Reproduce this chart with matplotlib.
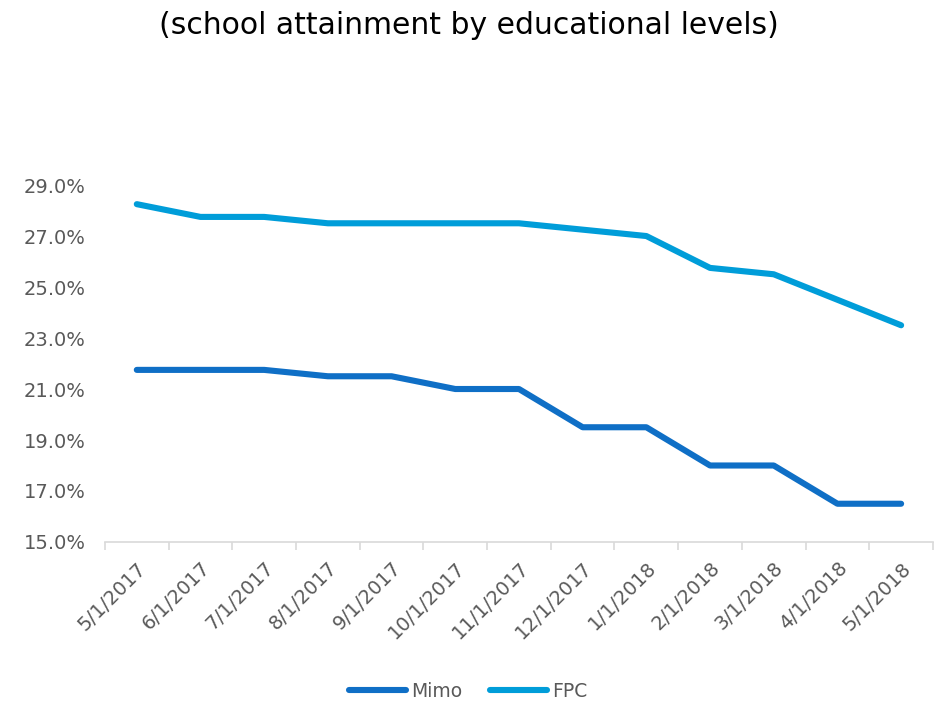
import matplotlib
matplotlib.use('Agg')
import matplotlib.pyplot as plt
from matplotlib.ticker import PercentFormatter, FixedLocator
import numpy as np

# monthly attainment share, two programmes
months = ['5/1/2017', '6/1/2017', '7/1/2017', '8/1/2017', '9/1/2017', '10/1/2017',
          '11/1/2017', '12/1/2017', '1/1/2018', '2/1/2018', '3/1/2018', '4/1/2018', '5/1/2018']
mimo = [21.75, 21.75, 21.75, 21.5, 21.5, 21.0, 21.0, 19.5, 19.5, 18.0, 18.0, 16.5, 16.5]
fpc = [28.25, 27.75, 27.75, 27.5, 27.5, 27.5, 27.5, 27.25, 27.0, 25.75, 25.5, 24.5, 23.5]
y_ticks = [15, 17, 19, 21, 23, 25, 27, 29]

plt.rcParams['font.family'] = ['DejaVu Sans']
label_color = '#595959'

fig = plt.figure(figsize=(9.37, 7.07), dpi=100)
ax = fig.add_axes([0.112, 0.2334, 0.8837, 0.577])

x = np.arange(len(months))
ax.plot(x, mimo, color='#0F6FC6', linewidth=4.4, solid_capstyle='round',
        solid_joinstyle='round', label='Mimo')
ax.plot(x, fpc, color='#009DD9', linewidth=4.4, solid_capstyle='round',
        solid_joinstyle='round', label='FPC')

ax.set_xlim(-0.5, len(months) - 0.5)
ax.set_ylim(15, 31)
ax.set_yticks(y_ticks)
ax.yaxis.set_major_formatter(PercentFormatter(decimals=1))

ax.set_xticks(x)
ax.set_xticklabels(months, rotation=45, ha='right', rotation_mode='anchor')
ax.xaxis.set_minor_locator(FixedLocator(np.arange(-0.5, len(months), 1.0)))
ax.tick_params(axis='x', which='major', length=0, pad=12, labelsize=14, labelcolor=label_color)
ax.tick_params(axis='x', which='minor', length=6, width=1.2, color='#D9D9D9')
ax.tick_params(axis='y', length=0, pad=14, labelsize=14, labelcolor=label_color)

for side in ['top', 'right', 'left']:
    ax.spines[side].set_visible(False)
ax.spines['bottom'].set_color('#D9D9D9')
ax.spines['bottom'].set_linewidth(1.2)

fig.text(0.5, 0.964, '(school attainment by educational levels)', ha='center', va='center',
         fontsize=21.5, color='black')

fig.legend(loc='center', bbox_to_anchor=(0.5, 0.022), ncol=2, frameon=False,
           fontsize=13.5, labelcolor=label_color, handlelength=3.0, handletextpad=0.3,
           columnspacing=1.5)

fig.savefig('out.png', dpi=100)
